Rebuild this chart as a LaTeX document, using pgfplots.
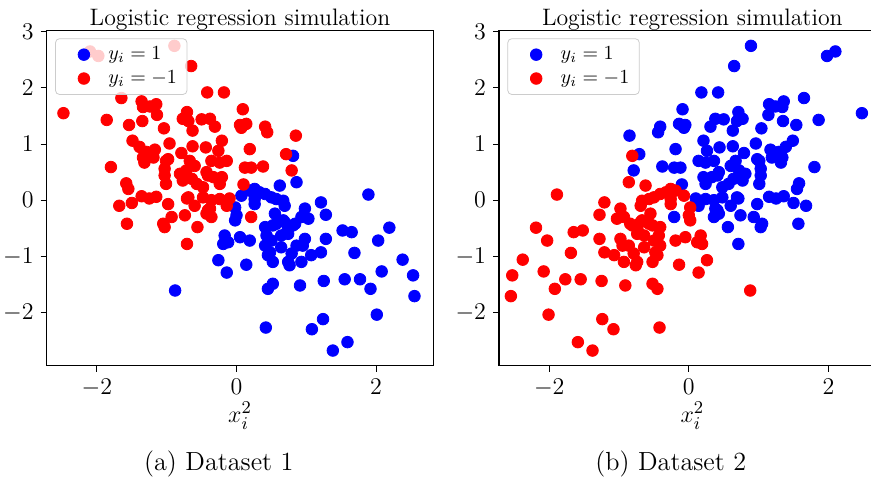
\documentclass[border=0pt]{standalone}
\usepackage{pgfplots}
\pgfplotsset{compat=1.18}
\usepackage{pgfplotstable}

% dataset 1, class y=-1
\pgfplotstableread{
x y
-2.48 1.55
-2.10 2.65
-1.98 2.57
-0.89 2.75
-0.65 2.39
-1.65 1.82
-1.36 1.76
-1.34 1.66
-1.24 1.67
-1.15 1.71
-1.14 1.52
-1.86 1.43
-1.54 1.34
-1.35 1.41
-1.04 1.28
-0.71 1.57
-0.77 1.45
-0.69 1.41
-0.63 1.24
-0.50 1.44
-0.38 1.45
-0.42 1.92
-0.18 1.92
0.09 1.62
-0.31 1.31
0.05 1.34
0.14 1.36
0.07 1.29
0.41 1.31
0.44 1.21
0.85 1.15
-1.49 1.06
-1.39 0.95
-1.29 0.86
-1.17 0.90
-0.96 1.01
-0.79 0.84
-0.63 0.96
-0.44 0.94
-0.21 1.06
-0.26 0.88
0.19 0.91
-1.34 0.76
-1.19 0.76
-0.98 0.73
-1.32 0.67
-1.01 0.70
-1.03 0.56
-1.03 0.44
-1.01 0.29
-1.80 0.59
-1.58 0.30
-1.55 0.20
-1.36 0.07
-1.25 0.03
-1.15 0.06
-1.68 -0.10
-1.50 -0.05
-0.98 -0.07
-0.93 -0.30
-1.05 -0.42
-1.03 -0.48
-1.57 -0.42
-0.71 -0.78
-0.74 -0.27
-0.56 -0.48
-0.71 0.03
-0.60 -0.10
-0.43 -0.24
-0.38 -0.15
-0.67 0.70
-0.60 0.61
-0.72 0.53
-0.81 0.47
-0.77 0.35
-0.64 0.38
-0.57 0.29
-0.48 0.23
-0.41 0.44
-0.33 0.41
-0.21 0.41
-0.24 0.29
-0.36 0.70
-0.24 0.67
-0.14 0.70
-0.43 0.50
0.12 0.58
0.21 0.58
0.38 0.60
0.71 0.82
0.79 0.53
0.10 0.28
-0.69 0.05
-0.48 0.05
-0.36 0.00
-0.24 0.02
-0.10 0.03
-0.14 -0.10
-0.41 -0.18
-0.36 -0.30
0.21 -0.30
}\dataAneg

% dataset 1, class y=1
\pgfplotstableread{
x y
0.81 0.79
0.86 0.32
0.62 0.26
0.07 0.08
0.19 0.17
0.26 0.20
0.33 0.14
0.26 0.02
0.26 -0.07
0.41 0.11
0.50 0.05
0.57 0.02
0.67 -0.01
0.69 -0.10
-0.02 -0.13
0.00 -0.27
-0.02 -0.36
0.55 -0.24
0.52 -0.45
0.41 -0.48
0.43 -0.63
0.50 -0.72
0.64 -0.63
0.74 -0.60
0.81 -0.45
0.69 -0.39
0.93 -0.30
0.98 -0.15
1.03 -0.33
0.98 -0.69
0.95 -0.81
1.07 -0.98
0.86 -0.81
0.79 -0.95
0.64 -0.84
0.41 -0.81
0.45 -0.98
0.52 -1.10
0.74 -1.10
0.93 -1.10
-0.17 -0.63
-0.12 -0.75
-0.19 -0.78
0.05 -0.66
0.19 -0.72
-0.26 -1.07
0.14 -1.15
-0.14 -1.29
-0.88 -1.61
0.52 -1.49
0.45 -1.58
0.42 -2.27
0.57 -0.42
0.67 -0.36
0.72 -0.57
0.48 -0.93
0.76 -1.16
0.91 -1.52
1.21 -0.04
0.84 -0.42
1.28 -0.26
1.89 0.10
1.28 -0.69
1.52 -0.54
1.65 -0.57
2.19 -0.49
2.03 -0.72
1.21 -0.93
1.69 -0.94
2.38 -1.06
2.53 -1.34
2.08 -1.27
1.25 -1.44
1.55 -1.41
1.77 -1.41
1.92 -1.58
2.55 -1.71
1.24 -2.12
1.08 -2.30
2.01 -2.04
1.59 -2.53
1.38 -2.68
}\dataApos

% dataset 2, class y=1
\pgfplotstableread{
x y
2.48 1.55
2.10 2.65
1.98 2.57
0.89 2.75
0.65 2.39
1.65 1.82
1.36 1.76
1.34 1.66
1.24 1.67
1.15 1.71
1.14 1.52
1.86 1.43
1.54 1.34
1.35 1.41
1.04 1.28
0.71 1.57
0.77 1.45
0.69 1.41
0.63 1.24
0.50 1.44
0.38 1.45
0.42 1.92
0.18 1.92
-0.09 1.62
0.31 1.31
-0.05 1.34
-0.14 1.36
-0.07 1.29
-0.41 1.31
-0.44 1.21
-0.85 1.15
1.49 1.06
1.39 0.95
1.29 0.86
1.17 0.90
0.96 1.01
0.79 0.84
0.63 0.96
0.44 0.94
0.21 1.06
0.26 0.88
-0.19 0.91
1.34 0.76
1.19 0.76
0.98 0.73
1.32 0.67
1.01 0.70
1.03 0.56
1.03 0.44
1.01 0.29
1.80 0.59
1.58 0.30
1.55 0.20
1.36 0.07
1.25 0.03
1.15 0.06
1.68 -0.10
1.50 -0.05
0.98 -0.07
0.93 -0.30
1.05 -0.42
1.03 -0.48
1.57 -0.42
0.71 -0.78
0.74 -0.27
0.56 -0.48
0.71 0.03
0.60 -0.10
0.43 -0.24
0.38 -0.15
0.67 0.70
0.60 0.61
0.72 0.53
0.81 0.47
0.77 0.35
0.64 0.38
0.57 0.29
0.48 0.23
0.41 0.44
0.33 0.41
0.21 0.41
0.24 0.29
0.36 0.70
0.24 0.67
0.14 0.70
0.43 0.50
-0.12 0.58
-0.21 0.58
-0.38 0.60
-0.71 0.82
-0.79 0.53
-0.10 0.28
0.69 0.05
0.48 0.05
0.36 0.00
0.24 0.02
0.10 0.03
0.14 -0.10
0.41 -0.18
0.36 -0.30
-0.21 -0.30
}\dataBpos

% dataset 2, class y=-1
\pgfplotstableread{
x y
-0.81 0.79
-0.86 0.32
-0.62 0.26
-0.07 0.08
-0.19 0.17
-0.26 0.20
-0.33 0.14
-0.26 0.02
-0.26 -0.07
-0.41 0.11
-0.50 0.05
-0.57 0.02
-0.67 -0.01
-0.69 -0.10
0.02 -0.13
0.00 -0.27
0.02 -0.36
-0.55 -0.24
-0.52 -0.45
-0.41 -0.48
-0.43 -0.63
-0.50 -0.72
-0.64 -0.63
-0.74 -0.60
-0.81 -0.45
-0.69 -0.39
-0.93 -0.30
-0.98 -0.15
-1.03 -0.33
-0.98 -0.69
-0.95 -0.81
-1.07 -0.98
-0.86 -0.81
-0.79 -0.95
-0.64 -0.84
-0.41 -0.81
-0.45 -0.98
-0.52 -1.10
-0.74 -1.10
-0.93 -1.10
0.17 -0.63
0.12 -0.75
0.19 -0.78
-0.05 -0.66
-0.19 -0.72
0.26 -1.07
-0.14 -1.15
0.14 -1.29
0.88 -1.61
-0.52 -1.49
-0.45 -1.58
-0.42 -2.27
-0.57 -0.42
-0.67 -0.36
-0.72 -0.57
-0.48 -0.93
-0.76 -1.16
-0.91 -1.52
-1.21 -0.04
-0.84 -0.42
-1.28 -0.26
-1.89 0.10
-1.28 -0.69
-1.52 -0.54
-1.65 -0.57
-2.19 -0.49
-2.03 -0.72
-1.21 -0.93
-1.69 -0.94
-2.38 -1.06
-2.53 -1.34
-2.08 -1.27
-1.25 -1.44
-1.55 -1.41
-1.77 -1.41
-1.92 -1.58
-2.55 -1.71
-1.24 -2.12
-1.08 -2.30
-2.01 -2.04
-1.59 -2.53
-1.38 -2.68
}\dataBneg

\pgfplotsset{
    simpanel/.style={
        scale only axis, anchor=south west,
        width=193.3pt, height=167.5pt,
        xmin=-2.72, xmax=2.82, ymin=-2.95, ymax=3.02,
        xtick={-2,0,2}, ytick={-2,-1,0,1,2,3},
        tick pos=left,
        tick align=outside, major tick length=3pt,
        tick style={black, line width=0.5pt},
        axis line style={line width=0.6pt},
        ticklabel style={font=\fontsize{11.7}{14}\selectfont},
        every axis title shift=0pt,
        title={Logistic regression simulation},
        title style={font=\fontsize{11.9}{14}\selectfont, anchor=base, yshift=2.6pt},
        xlabel={$x_i^2$},
        xlabel style={font=\fontsize{13}{15}\selectfont, inner sep=0pt, at={(axis description cs:0.5,0)}, anchor=base, yshift=-28.5pt},
        legend cell align=left,
        legend style={at={(0,1)}, anchor=north west, xshift=4.2pt, yshift=-3.8pt,
            draw=black!20, rounded corners=2pt, fill=white, fill opacity=0.8, text opacity=1,
            font=\fontsize{10}{12}\selectfont, inner xsep=3pt, inner ysep=2pt, row sep=0pt},
        legend image code/.code={%
            \path (0pt,0pt) (21pt,0pt);
            \draw[#1, opacity=1] plot coordinates {(11pt,0pt)};},
    },
    pts/.style={only marks, mark=*, mark size=2.9pt, #1, mark options={fill=#1, draw=#1}},
}

\begin{document}
\begin{tikzpicture}[x=1pt, y=1pt]
\useasboundingbox (0,0) rectangle (435.5,238.5);
\clip (0,0) rectangle (435.5,238.5);

\begin{axis}[simpanel, at={(23.35pt,55.65pt)}]
\addplot[pts=blue] table {\dataApos};
\addplot[pts=red] table {\dataAneg};
\legend{$y_i=1$, $y_i=-1$}
\end{axis}

\begin{axis}[simpanel, at={(249.5pt,55.65pt)}]
\addplot[pts=blue] table {\dataBpos};
\addplot[pts=red] table {\dataBneg};
\legend{$y_i=1$, $y_i=-1$}
\end{axis}

\node[anchor=base, font=\fontsize{13.1}{15}\selectfont] at (109.4,3.5) {(a) Dataset 1};
\node[anchor=base, font=\fontsize{13.1}{15}\selectfont] at (335.4,3.5) {(b) Dataset 2};
\end{tikzpicture}
\end{document}
